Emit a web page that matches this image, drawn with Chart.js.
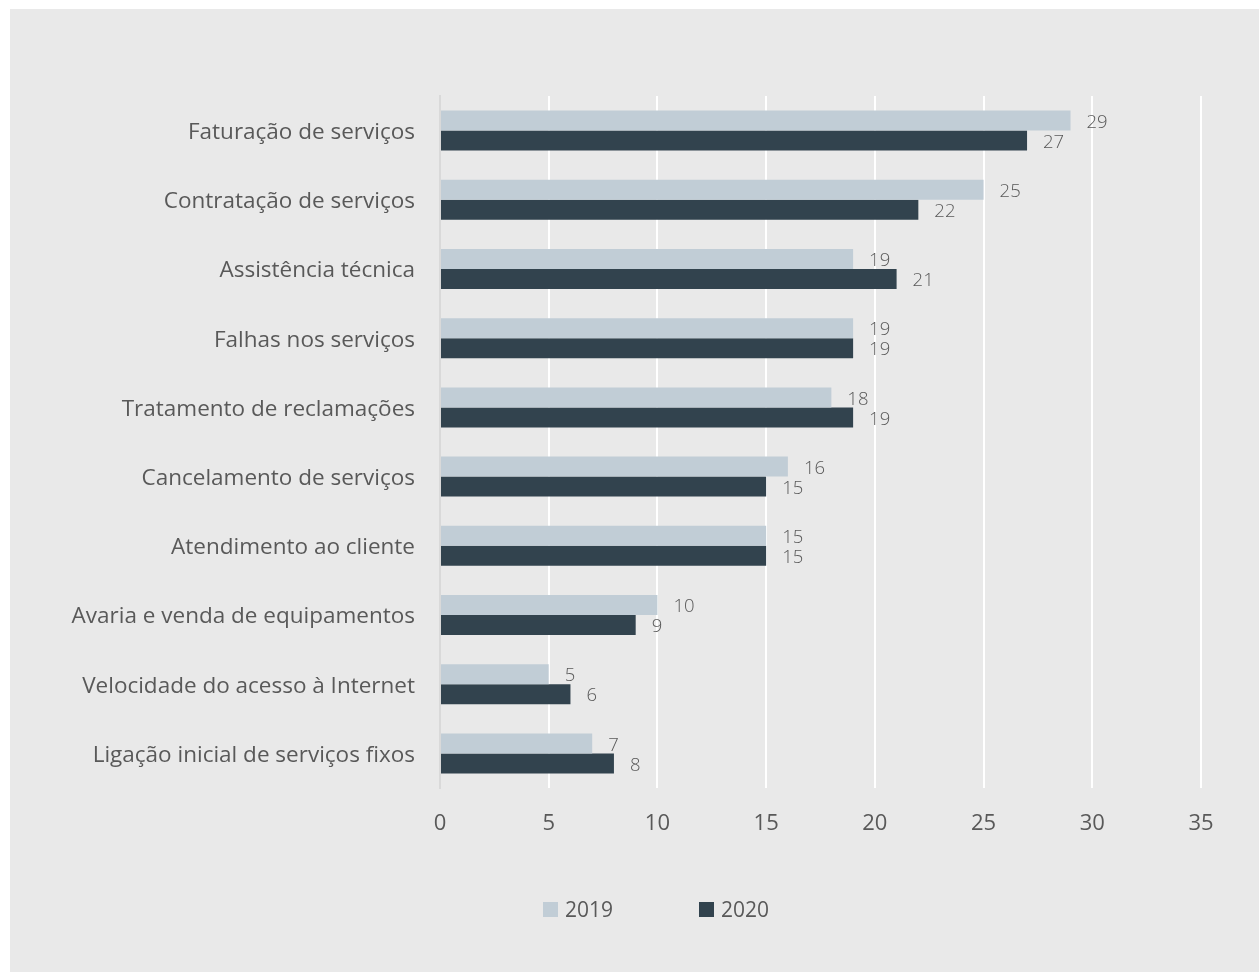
<!DOCTYPE html>
<html lang="pt">
<head>
<meta charset="utf-8">
<title>Reclamações por tema, 2019 e 2020</title>
<script src="https://cdn.jsdelivr.net/npm/chart.js@4.4.1/dist/chart.umd.min.js"></script>
<style>
  html, body { margin: 0; padding: 0; background: #ffffff; }
  #frame {
    position: absolute; left: 10px; top: 9px;
    width: 1249px; height: 963px;
    background: #e9e9e9;
  }
  #chart-box { position: absolute; left: 0; top: 0; width: 1249px; height: 963px; }
  #legend {
    position: absolute; left: 533px; top: 886px;
    display: flex; align-items: center; gap: 86px;
    font-family: "Open Sans", sans-serif; font-size: 21px; color: #595959;
  }
  #legend .item { display: flex; align-items: center; }
  #legend .swatch { width: 15px; height: 15px; margin-right: 7px; }
</style>
</head>
<body>
<div id="frame">
  <div id="chart-box"><canvas id="themes-chart"></canvas></div>
  <div id="legend"></div>
</div>
<script>
// temas de reclamação (de cima para baixo)
const categories = [
  'Faturação de serviços',
  'Contratação de serviços',
  'Assistência técnica',
  'Falhas nos serviços',
  'Tratamento de reclamações',
  'Cancelamento de serviços',
  'Atendimento ao cliente',
  'Avaria e venda de equipamentos',
  'Velocidade do acesso à Internet',
  'Ligação inicial de serviços fixos'
];
const values2019 = [29, 25, 19, 19, 18, 16, 15, 10, 5, 7];
const values2020 = [27, 22, 21, 19, 19, 15, 15, 9, 6, 8];
const xTicks = [0, 5, 10, 15, 20, 25, 30, 35];

const TEXT_COLOR = '#595959';
const FONT = '"Open Sans", sans-serif';

// escreve o valor à direita de cada barra
const barValueLabels = {
  id: 'barValueLabels',
  afterDatasetsDraw(chart) {
    const ctx = chart.ctx;
    ctx.save();
    ctx.font = '300 18.5px ' + FONT;
    ctx.fillStyle = TEXT_COLOR;
    ctx.textAlign = 'left';
    ctx.textBaseline = 'middle';
    chart.data.datasets.forEach((ds, i) => {
      chart.getDatasetMeta(i).data.forEach((bar, j) => {
        ctx.fillText(ds.data[j], bar.x + 16, bar.y + 2);
      });
    });
    ctx.restore();
  }
};

const chart = new Chart(document.getElementById('themes-chart'), {
  type: 'bar',
  data: {
    labels: categories,
    datasets: [
      { label: '2019', data: values2019, backgroundColor: '#c1cdd6' },
      { label: '2020', data: values2020, backgroundColor: '#32434e' }
    ]
  },
  options: {
    indexAxis: 'y',
    responsive: true,
    maintainAspectRatio: false,
    animation: false,
    categoryPercentage: 0.578,
    barPercentage: 1,
    layout: { padding: { top: 87, right: 58, bottom: 124, left: 0 } },
    scales: {
      x: {
        min: 0,
        max: 35,
        afterBuildTicks: scale => { scale.ticks = xTicks.map(v => ({ value: v })); },
        afterFit: scale => { scale.height = 60; },
        ticks: { color: TEXT_COLOR, font: { family: FONT, size: 22 }, padding: 23 },
        grid: { color: '#ffffff', lineWidth: 2, drawTicks: false },
        border: { display: false }
      },
      y: {
        afterFit: scale => { scale.width = 430; },
        ticks: { color: TEXT_COLOR, font: { family: FONT, size: 22.5 }, padding: 25, labelOffset: 2 },
        grid: { display: false, drawTicks: false },
        border: { display: true, color: '#d9d9d9', width: 2 }
      }
    },
    plugins: {
      legend: { display: false },
      tooltip: { enabled: false }
    }
  },
  plugins: [barValueLabels]
});

// legenda em HTML, a partir das séries do gráfico
const legendEl = document.getElementById('legend');
chart.data.datasets.forEach(ds => {
  const item = document.createElement('div');
  item.className = 'item';
  const swatch = document.createElement('span');
  swatch.className = 'swatch';
  swatch.style.background = ds.backgroundColor;
  const text = document.createElement('span');
  text.textContent = ds.label;
  item.appendChild(swatch);
  item.appendChild(text);
  legendEl.appendChild(item);
});
</script>
</body>
</html>
